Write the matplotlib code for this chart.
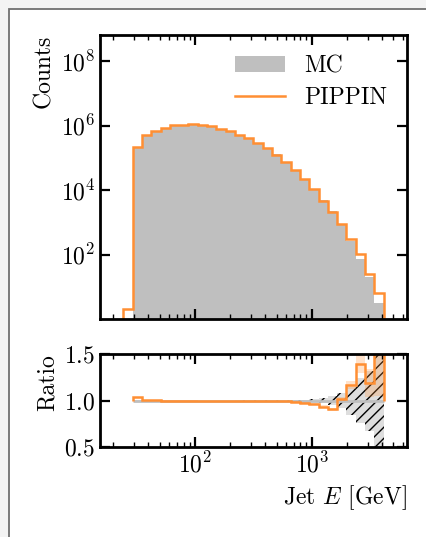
import numpy as np
import matplotlib
matplotlib.use("Agg")
import matplotlib.pyplot as plt
from matplotlib.patches import Rectangle
from matplotlib.ticker import FixedLocator, NullLocator

# ---------------- data ----------------
bin_edges = np.array([24.4, 29.3, 35.2, 42.3, 50.8, 61.0, 73.2, 88.0, 105.6, 126.9,
                      152.4, 183.0, 219.8, 264.0, 317.0, 380.8, 457.3, 549.2, 659.6,
                      792.2, 951.4, 1142.6, 1372.3, 1648.1, 1979.3, 2377.1, 2855.0,
                      3429.0, 4118.0])

pippin_counts = np.array([2, 2.2e5, 5.27e5, 6.67e5, 8.5e5, 1.02e6, 1.07e6, 1.10e6,
                          1.07e6, 9.5e5, 8.1e5, 6.67e5, 5.27e5, 4.17e5, 2.92e5, 1.99e5,
                          1.27e5, 7.35e4, 4.15e4, 2.14e4, 1.05e4, 4.57e3, 2.04e3, 871,
                          299, 102, 24.8, 6.3])

mc_counts = np.array([0, 2.12e5, 5.23e5, 6.65e5, 8.5e5, 1.02e6, 1.07e6, 1.10e6,
                      1.071e6, 9.52e5, 8.12e5, 6.69e5, 5.29e5, 4.18e5, 2.93e5, 2.0e5,
                      1.276e5, 7.39e4, 4.21e4, 2.19e4, 1.085e4, 4.88e3, 2.25e3, 858,
                      256, 73, 20.8, 3.15])

mc_rel_err = np.array([0, 0.002, 0.001, 0.001, 0.001, 0.001, 0.001, 0.001, 0.001,
                       0.001, 0.001, 0.001, 0.002, 0.002, 0.002, 0.003, 0.003, 0.004,
                       0.008, 0.012, 0.018, 0.03, 0.05, 0.08, 0.15, 0.24, 0.32, 0.65])

pippin_ratio_err = np.array([0, 0.003, 0.002, 0.002, 0.002, 0.002, 0.002, 0.002, 0.002,
                             0.002, 0.002, 0.002, 0.002, 0.002, 0.003, 0.003, 0.004,
                             0.005, 0.006, 0.008, 0.01, 0.012, 0.015, 0.02, 0.04, 0.1,
                             0.15, 0.95])

legend_labels = ["MC", "PIPPIN"]
y_ticks_main = [1e2, 1e4, 1e6, 1e8]
y_ticks_ratio = [0.5, 1.0, 1.5]

# ---------------- style ----------------
plt.rcParams['font.family'] = 'serif'
plt.rcParams['font.serif'] = ['cmr10', 'DejaVu Serif']
plt.rcParams['mathtext.fontset'] = 'cm'
plt.rcParams['axes.formatter.use_mathtext'] = True
plt.rcParams['font.size'] = 17
plt.rcParams['hatch.linewidth'] = 1.0

ORANGE = '#ff8f33'
GRAY = '#bfbfbf'

W, H = 427, 537
fig = plt.figure(figsize=(W / 100, H / 100), dpi=100)
fig.patch.set_facecolor('#f3f3f3')
fig.add_artist(Rectangle((8.5 / W, -0.05), 1.0, 1 - 8.5 / H + 0.05,
                         transform=fig.transFigure, facecolor='white',
                         edgecolor='#707070', linewidth=1.3, zorder=-10))

ax = fig.add_axes([100 / W, 1 - 319 / H, (407 - 100) / W, (319 - 35) / H])
rax = fig.add_axes([100 / W, 1 - 447.3 / H, (407 - 100) / W, (447.3 - 354) / H],
                   sharex=ax)

# ---------------- main panel ----------------
ax.stairs(mc_counts[1:], bin_edges[1:], baseline=1e-3, fill=True, color=GRAY,
          label=legend_labels[0])
ax.stairs(pippin_counts, bin_edges, baseline=1e-3, color=ORANGE, lw=1.8,
          label=legend_labels[1])
ax.set_xscale('log')
ax.set_yscale('log')
ax.set_xlim(15.4, 6530)
ax.set_ylim(1, 6.5e8)
ax.yaxis.set_major_locator(FixedLocator(y_ticks_main))
ax.yaxis.set_minor_locator(NullLocator())
ax.set_ylabel('Counts', loc='top')
ax.tick_params(labelbottom=False)
ax.legend(loc='upper right', frameon=False, handlelength=2.1, labelspacing=0.4,
          handletextpad=0.8, borderaxespad=0.45)

# ---------------- ratio panel ----------------
ratio = pippin_counts[1:] / mc_counts[1:]
e = bin_edges[1:]
mc_lo = 1 - mc_rel_err[1:]
mc_hi = 1 + mc_rel_err[1:]
rax.stairs(mc_hi, e, baseline=mc_lo, fill=True, facecolor=GRAY, alpha=0.5,
           edgecolor='none', linewidth=0)
rax.stairs(mc_hi, e, baseline=mc_lo, fill=True, facecolor='none', hatch='///',
           edgecolor='black', linewidth=0)
rax.stairs(np.ones_like(ratio), e, baseline=None, color=GRAY, lw=2.0)
rax.stairs(ratio + pippin_ratio_err[1:], e, baseline=ratio - pippin_ratio_err[1:],
           fill=True, color=ORANGE, alpha=0.25, linewidth=0)
rax.stairs(ratio, e, baseline=1.0, color=ORANGE, lw=1.8)
rax.set_ylim(0.5, 1.5)
rax.yaxis.set_major_locator(FixedLocator(y_ticks_ratio))
rax.yaxis.set_minor_locator(NullLocator())
rax.set_ylabel('Ratio', loc='top')
rax.set_xlabel('Jet $E$ [GeV]', loc='right')

for a in (ax, rax):
    for s in a.spines.values():
        s.set_linewidth(2.0)
    a.tick_params(which='major', direction='in', top=True, right=True,
                  length=7, width=1.6, labelsize=17)
    a.tick_params(which='minor', direction='in', top=True, right=True,
                  length=3.5, width=1.0)

fig.align_ylabels([ax, rax])
fig.savefig('out.png', dpi=100, facecolor=fig.get_facecolor())
